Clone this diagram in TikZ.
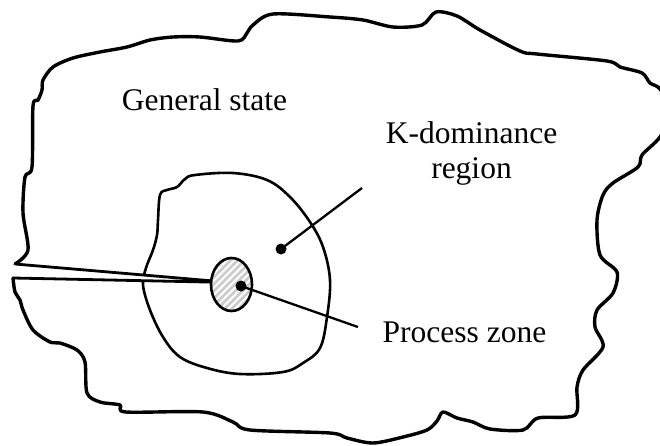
\documentclass[tikz,border=0pt]{standalone}
\usepackage{fontspec}
\setmainfont{Liberation Serif}
\usetikzlibrary{patterns.meta}
\tikzset{
  outline/.style={line width=3.4pt, line join=round, line cap=round},
  region/.style={line width=2.6pt},
  crackline/.style={line width=2.8pt, line join=round},
  leader/.style={line width=2.3pt},
  dotmark/.style={circle, fill=black, inner sep=0pt, minimum size=11pt},
  label/.style={font=\fontsize{31.5}{35}\selectfont, inner sep=0pt, align=center},
  zone/.style={line width=2.6pt, preaction={fill=gray!40},
    pattern={Lines[angle=45,distance=5pt,line width=2pt]}, pattern color=white}
}
\begin{document}
\begin{tikzpicture}[x=1pt, y=-1pt]
\useasboundingbox (0,0) rectangle (660,445);
\clip (0,0) rectangle (660,445);
% outer outline (general state)
\draw[outline] plot[smooth, tension=0.5] coordinates {
 (13,278) (15,292) (20,300) (23,310) (33,330) (50,342) (60,343) (77,350)
 (85,362) (87,393) (100,402) (120,405) (126,412) (203,412) (233,422) (250,430)
 (330,433) (347,438) (373,443) (403,437) (427,430) (437,421) (443,412)
 (457,418) (473,422) (490,429) (523,430) (538,418) (575,415) (577,387)
 (583,370) (603,347) (595,327) (597,310) (613,293) (617,272) (600,255)
 (597,220) (603,195) (613,183) (638,167) (642,155) (660,137) (672,112)
 (660,89) (650,83) (642,73) (620,67) (607,61) (537,54) (520,51) (480,30)
 (457,16) (436,12) (422,25) (393,27) (363,20) (330,17) (273,14) (253,25)
 (247,33) (238,41) (200,37) (173,37) (150,40) (127,47) (100,52) (73,58)
 (53,67) (43,80) (42,90) (38,100) (33,106) (32,167) (25,177) (23,213)
 (28,250) (15,264)};
% K-dominance region
\draw[region] plot[smooth cycle, tension=0.6] coordinates {
 (158,220) (160,195) (167,190) (177,187) (185,179) (195,175) (233,173)
 (267,180) (290,197) (310,222) (323,247) (330,280) (327,317) (320,348)
 (303,363) (283,372) (240,374) (207,368) (180,357) (163,337) (150,310)
 (143,285) (146,268) (153,250) (157,235)};
% crack
\coordinate (cu) at (15,264);
\coordinate (cl) at (13,278);
\coordinate (tip) at (231,282.5);
\fill[white] (cu) -- (tip) -- (cl) -- cycle;
\draw[crackline] (cu) -- (tip) -- (cl);
% process zone
\draw[zone] (231.5,284.5) ellipse [x radius=20.5, y radius=26.5];
% dots and leaders
\node[dotmark] (kdot) at (281,249) {};
\node[dotmark] (pdot) at (241,286) {};
\coordinate (kend) at (362,188);
\coordinate (pend) at (358,327);
\draw[leader] (kdot.center) -- (kend);
\draw[leader] (pdot.center) -- (pend);
% labels
\node[label, anchor=base] (gs) at (204.5,110) {General state};
\node[label, anchor=base] (kd) at (471.5,178) {K-dominance\\region};
\node[label, anchor=base] (pz) at (464.5,342) {Process zone};
\end{tikzpicture}
\end{document}
